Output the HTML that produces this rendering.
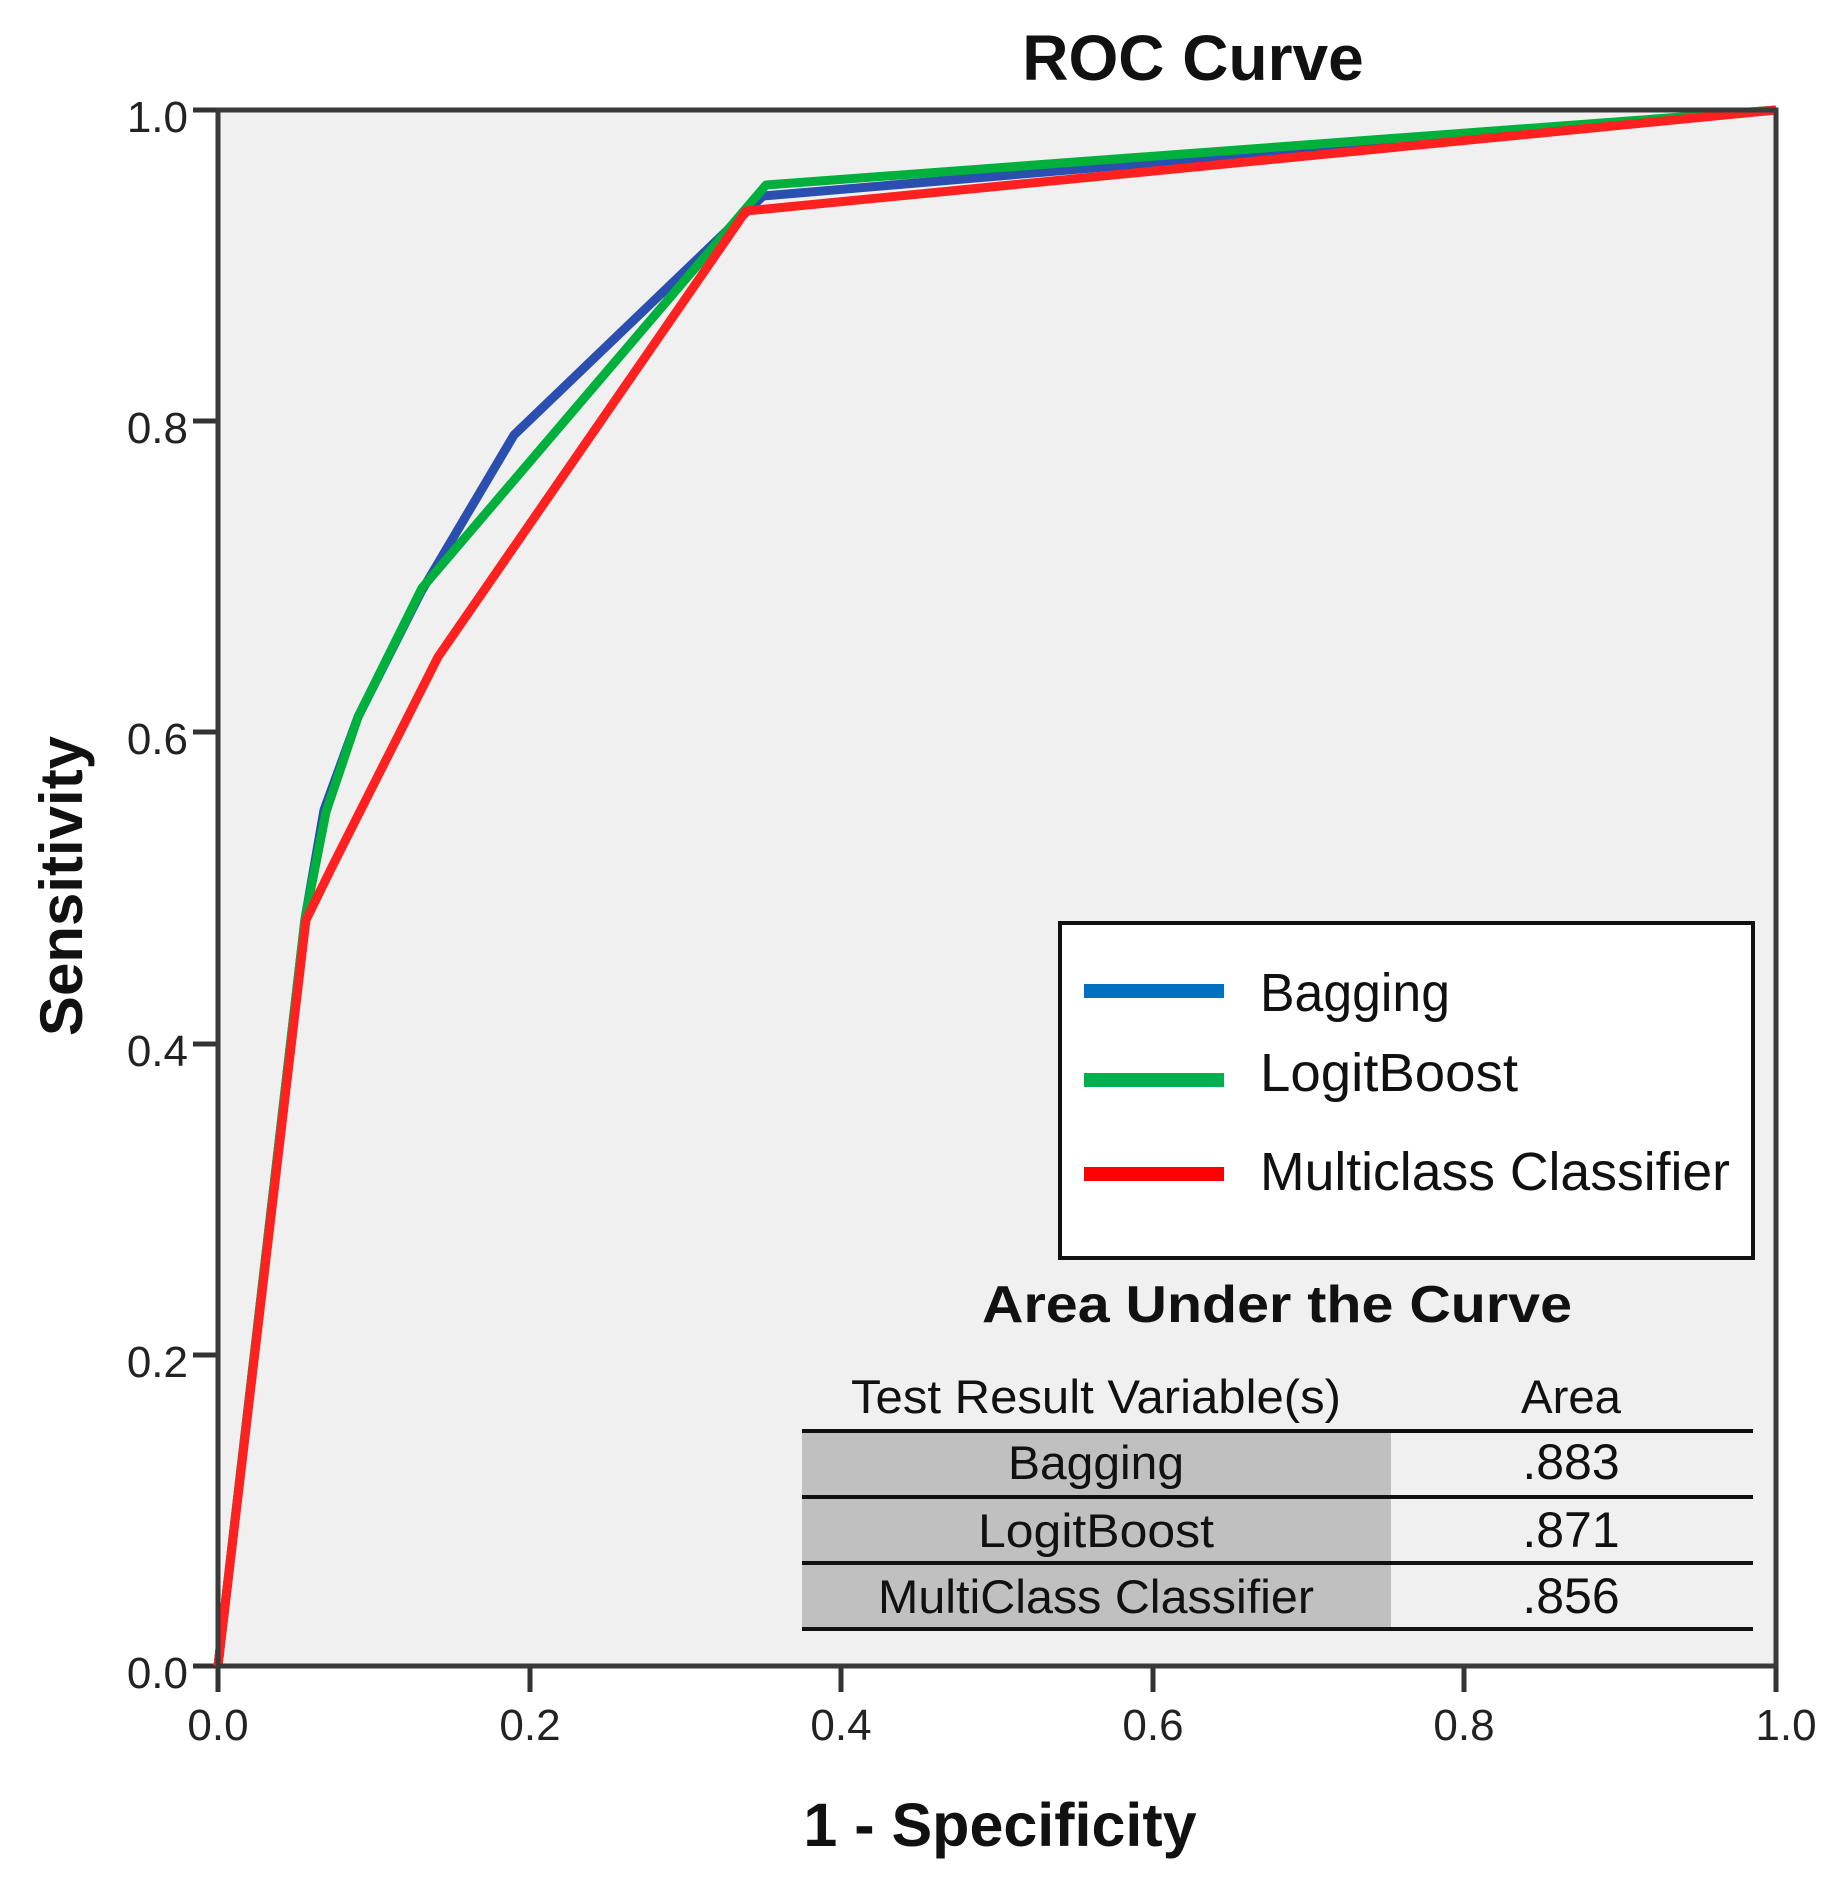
<!DOCTYPE html>
<html><head><meta charset="utf-8"><style>html,body{margin:0;padding:0;background:#fff}svg{display:block}</style></head>
<body>
<svg width="1828" height="1888" viewBox="0 0 1828 1888" xmlns="http://www.w3.org/2000/svg" font-family="Liberation Sans, Arial, sans-serif">
<rect x="218" y="110" width="1558" height="1556" fill="#f0f0f0"/>
<text x="1193" y="80" font-size="64" font-weight="bold" text-anchor="middle" fill="#111">ROC Curve</text>
<g stroke="#333" stroke-width="5">
<line x1="193" y1="110" x2="218" y2="110"/><line x1="193" y1="421" x2="218" y2="421"/><line x1="193" y1="732" x2="218" y2="732"/><line x1="193" y1="1044" x2="218" y2="1044"/><line x1="193" y1="1355" x2="218" y2="1355"/><line x1="193" y1="1666" x2="218" y2="1666"/>
<line x1="218" y1="1666" x2="218" y2="1692"/><line x1="530" y1="1666" x2="530" y2="1692"/><line x1="841" y1="1666" x2="841" y2="1692"/><line x1="1153" y1="1666" x2="1153" y2="1692"/><line x1="1464" y1="1666" x2="1464" y2="1692"/><line x1="1776" y1="1666" x2="1776" y2="1692"/>
</g>
<g font-size="44" fill="#222" text-anchor="end">
<text x="188" y="132">1.0</text><text x="188" y="443">0.8</text><text x="188" y="754">0.6</text><text x="188" y="1066">0.4</text><text x="188" y="1377">0.2</text><text x="188" y="1688">0.0</text>
</g>
<g font-size="44" fill="#222" text-anchor="middle">
<text x="218" y="1740">0.0</text><text x="530" y="1740">0.2</text><text x="841" y="1740">0.4</text><text x="1153" y="1740">0.6</text><text x="1464" y="1740">0.8</text><text x="1786" y="1740">1.0</text>
</g>
<text x="1000" y="1846" font-size="61" font-weight="bold" text-anchor="middle" fill="#111">1 - Specificity</text>
<text transform="translate(82,886) rotate(-90)" font-size="60" font-weight="bold" text-anchor="middle" fill="#111">Sensitivity</text>
<rect x="1060" y="923" width="693" height="335" fill="#fff" stroke="#111" stroke-width="4"/>
<rect x="1084" y="984" width="140" height="14" fill="#0070c0"/>
<rect x="1084" y="1073" width="140" height="14" fill="#00b050"/>
<rect x="1084" y="1167" width="140" height="14" fill="#ff0000"/>
<g font-size="54" fill="#111">
<text x="1260" y="1011" textLength="190" lengthAdjust="spacingAndGlyphs">Bagging</text>
<text x="1260" y="1091" textLength="258" lengthAdjust="spacingAndGlyphs">LogitBoost</text>
<text x="1260" y="1190" textLength="470" lengthAdjust="spacingAndGlyphs">Multiclass Classifier</text>
</g>
<text x="1277" y="1322" font-size="52" font-weight="bold" text-anchor="middle" fill="#111" textLength="590" lengthAdjust="spacingAndGlyphs">Area Under the Curve</text>
<rect x="802" y="1431" width="589" height="198" fill="#c0c0c0"/>
<g font-size="47" fill="#111" text-anchor="middle">
<text x="1096" y="1413" textLength="490" lengthAdjust="spacingAndGlyphs">Test Result Variable(s)</text>
<text x="1571" y="1413" textLength="100" lengthAdjust="spacingAndGlyphs">Area</text>
<text x="1096" y="1479" textLength="176" lengthAdjust="spacingAndGlyphs">Bagging</text>
<text x="1571" y="1479" font-size="50">.883</text>
<text x="1096" y="1547" textLength="236" lengthAdjust="spacingAndGlyphs">LogitBoost</text>
<text x="1571" y="1547" font-size="50">.871</text>
<text x="1096" y="1613" textLength="436" lengthAdjust="spacingAndGlyphs">MultiClass Classifier</text>
<text x="1571" y="1613" font-size="50">.856</text>
</g>
<g stroke="#111" stroke-width="4">
<line x1="802" y1="1431" x2="1753" y2="1431"/><line x1="802" y1="1497" x2="1753" y2="1497"/><line x1="802" y1="1563" x2="1753" y2="1563"/><line x1="802" y1="1629" x2="1753" y2="1629"/>
</g>
<g fill="none" stroke-width="9" stroke-linejoin="round">
<polyline stroke="#2a4fb0" points="218,1666 305,919 324,810 358,717 421,592 514,435 763,196 1776,110"/>
<polyline stroke="#00b03c" points="218,1666 305,919 326,812 358,717 422,588 766,185 1776,110"/>
<polyline stroke="#ff2020" points="218,1666 306,920 332,867 438,657 746,211 1776,110"/>
</g>
<rect x="218" y="110" width="1558" height="1556" fill="none" stroke="#3a3a3a" stroke-width="5"/>
</svg>
</body></html>
